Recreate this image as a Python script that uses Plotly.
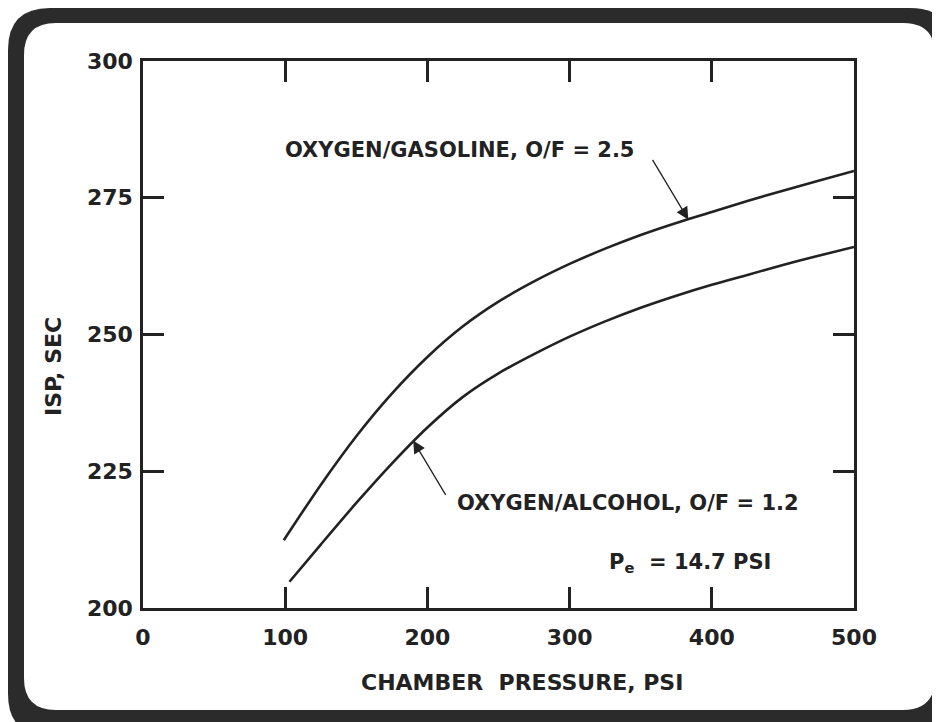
import plotly.graph_objects as go

# ---- data ----
gasoline_x = [99, 125, 150, 175, 200, 225, 250, 275, 300, 325, 350, 375, 400, 425, 450, 475, 500]
gasoline_isp = [212.4, 222.5, 231.4, 239.2, 245.9, 251.5, 256.0, 259.7, 262.9, 265.7, 268.2, 270.4, 272.4, 274.4, 276.3, 278.1, 279.9]
alcohol_x = [103, 125, 150, 175, 200, 225, 250, 275, 300, 325, 350, 375, 400, 425, 450, 475, 500]
alcohol_isp = [204.8, 211.6, 219.2, 226.4, 233.0, 238.6, 242.9, 246.4, 249.6, 252.4, 254.9, 257.1, 259.1, 260.9, 262.7, 264.4, 266.0]
x_ticks = [0, 100, 200, 300, 400, 500]
y_ticks = [200, 225, 250, 275, 300]
gas_label = "OXYGEN/GASOLINE, O/F = 2.5"
alc_label = "OXYGEN/ALCOHOL, O/F = 1.2"
pe_label = "P<sub>e</sub>  = 14.7 PSI"
x_title = "CHAMBER  PRESSURE, PSI"
y_title = "ISP, SEC"

INK = "#222222"
FONT = "DejaVu Sans"

# page body has an 8px margin; work in figure pixel coordinates
OFF = 8
W, H = 940 - OFF, 722 - OFF
L, R, T, B = 143 - OFF, 854 - OFF, 61 - OFF, 608 - OFF  # plot area pixel bounds


def px(xp):
    return (xp - OFF - L) / (R - L)


def py(yp):
    return (B - (yp - OFF)) / (B - T)


def rrect(x0, y0, x1, y1, r):
    return (f"M {px(x0 + r)},{py(y0)} L {px(x1 - r)},{py(y0)} "
            f"Q {px(x1)},{py(y0)} {px(x1)},{py(y0 + r)} "
            f"L {px(x1)},{py(y1 - r)} Q {px(x1)},{py(y1)} {px(x1 - r)},{py(y1)} "
            f"L {px(x0 + r)},{py(y1)} Q {px(x0)},{py(y1)} {px(x0)},{py(y1 - r)} "
            f"L {px(x0)},{py(y0 + r)} Q {px(x0)},{py(y0)} {px(x0 + r)},{py(y0)} Z")


fig = go.Figure()
fig.add_trace(go.Scatter(x=gasoline_x, y=gasoline_isp, mode="lines",
                         line=dict(color=INK, width=2.6, shape="spline", smoothing=0.8),
                         showlegend=False, hoverinfo="skip"))
fig.add_trace(go.Scatter(x=alcohol_x, y=alcohol_isp, mode="lines",
                         line=dict(color=INK, width=2.6, shape="spline", smoothing=0.8),
                         showlegend=False, hoverinfo="skip"))

axis_common = dict(showgrid=False, zeroline=False, showline=True, linecolor=INK, linewidth=2.5,
                   mirror="allticks", ticks="inside", ticklen=21, tickwidth=2.5, tickcolor=INK,
                   tickfont=dict(family=FONT, size=22, color=INK, weight="bold"))

fig.update_xaxes(range=[0, 500], tickvals=x_ticks, ticktext=[str(v) for v in x_ticks],
                 ticklabelstandoff=8, **axis_common)
fig.update_yaxes(range=[200, 300], tickvals=y_ticks, ticktext=[str(v) for v in y_ticks],
                 ticklabelstandoff=3, **axis_common)

ann_font = dict(family=FONT, size=21, color=INK, weight="bold")
annotations = [
    dict(x=98.5, y=283.7, xref="x", yref="y", text=gas_label, showarrow=False,
         xanchor="left", yanchor="middle", font=ann_font),
    dict(x=219.4, y=219.2, xref="x", yref="y", text=alc_label, showarrow=False,
         xanchor="left", yanchor="middle", font=ann_font),
    dict(x=326.0, y=208.3, xref="x", yref="y", text=pe_label, showarrow=False,
         xanchor="left", yanchor="middle", font=ann_font),
    # arrows
    dict(x=383.5, y=271.0, xref="x", yref="y", ax=357.7, ay=282.2, axref="x", ayref="y",
         text="", showarrow=True, arrowhead=2, arrowsize=1.9, arrowwidth=1.3, arrowcolor=INK,
         standoff=0),
    dict(x=190, y=230.6, xref="x", yref="y", ax=213.5, ay=220.4, axref="x", ayref="y",
         text="", showarrow=True, arrowhead=2, arrowsize=1.9, arrowwidth=1.3, arrowcolor=INK,
         standoff=0),
    # axis titles
    dict(x=px(522), y=py(682), xref="paper", yref="paper", text=x_title,
         showarrow=False, xanchor="center", yanchor="middle",
         font=dict(family=FONT, size=22, color=INK, weight="bold")),
    dict(x=px(53), y=py(367), xref="paper", yref="paper", text=y_title, textangle=-90,
         showarrow=False, xanchor="center", yanchor="middle",
         font=dict(family=FONT, size=22, color=INK, weight="bold")),
]

shapes = [
    dict(type="path", xref="paper", yref="paper", layer="below",
         path=rrect(8, 8, 952, 736, 42), fillcolor="#2b2b2b", line=dict(width=0)),
    dict(type="path", xref="paper", yref="paper", layer="below",
         path=rrect(24, 23, 935, 710, 32), fillcolor="white", line=dict(width=0)),
]

fig.update_layout(width=W, height=H, margin=dict(l=L, r=W - R, t=T, b=H - B),
                  paper_bgcolor="white", plot_bgcolor="rgba(0,0,0,0)",
                  annotations=annotations, shapes=shapes, showlegend=False)

fig.write_html("out.html")
